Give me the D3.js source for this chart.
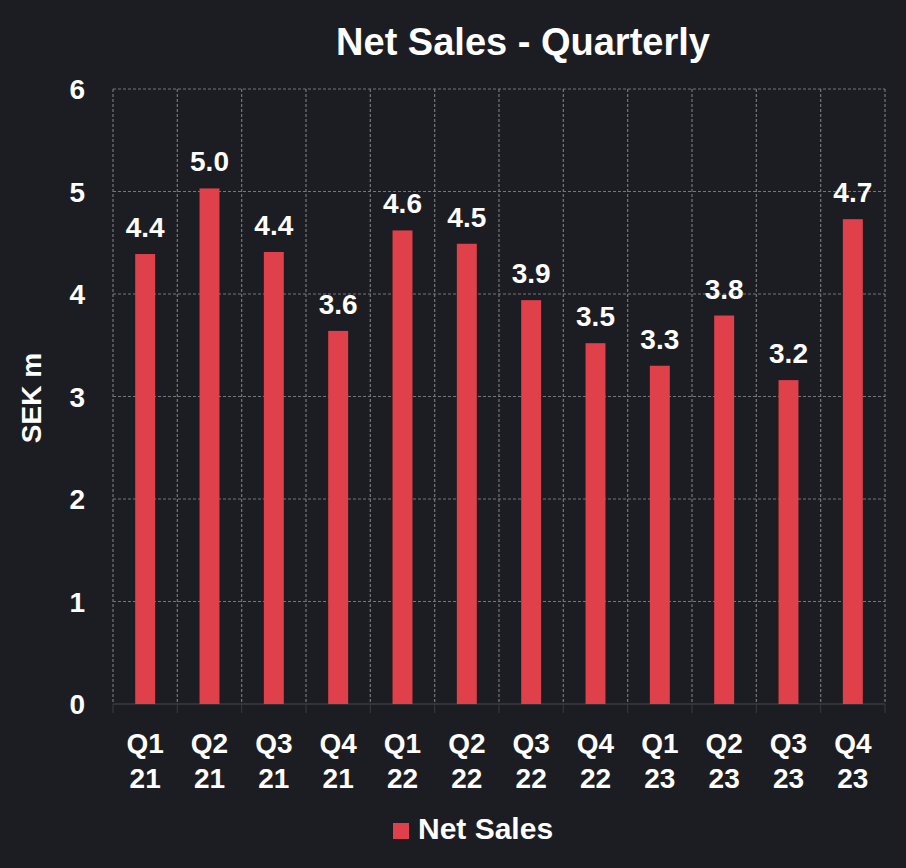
<!DOCTYPE html>
<html><head><meta charset="utf-8">
<script src="https://cdn.jsdelivr.net/npm/d3@7/dist/d3.min.js"></script>
<style>html,body{margin:0;padding:0;background:#1c1d22;}</style>
</head><body>
<svg id="c" width="906" height="868"></svg>
<script>
const quarters = ["Q1","Q2","Q3","Q4","Q1","Q2","Q3","Q4","Q1","Q2","Q3","Q4"];
const years = ["21","21","21","21","22","22","22","22","23","23","23","23"];
const netSales = [4.39, 5.03, 4.41, 3.64, 4.62, 4.49, 3.94, 3.52, 3.30, 3.79, 3.16, 4.73];
const labels = ["4.4","5.0","4.4","3.6","4.6","4.5","3.9","3.5","3.3","3.8","3.2","4.7"];
const yTicks = [0,1,2,3,4,5,6];

const svg = d3.select("#c");
const W = 906, H = 868;
const m = {left:113, right:21, top:89, bottom:164};
const font = "'Liberation Sans', Arial, sans-serif";
svg.append("rect").attr("width",W).attr("height",H).attr("fill","#1c1d22");

const idx = d3.range(netSales.length);
const x = d3.scaleBand().domain(idx).range([m.left, W-m.right]).paddingInner(0).paddingOuter(0);
const y = d3.scaleLinear().domain([0,6]).range([H-m.bottom, m.top]);

const grid = svg.append("g");
grid.selectAll("line.h").data(yTicks.filter(d=>d>0)).join("line")
  .attr("x1", m.left).attr("x2", W-m.right)
  .attr("y1", d=>y(d)).attr("y2", d=>y(d))
  .attr("stroke","#75767d").attr("stroke-width",1.2).attr("stroke-dasharray","3,2");
const bounds = idx.map(i=>x(i)).concat([W-m.right]);
grid.selectAll("line.v").data(bounds).join("line")
  .attr("x1", d=>d).attr("x2", d=>d)
  .attr("y1", m.top).attr("y2", y(0))
  .attr("stroke","#75767d").attr("stroke-width",1.2).attr("stroke-dasharray","3,2");
grid.selectAll("line.t").data(bounds).join("line")
  .attr("x1", d=>d).attr("x2", d=>d)
  .attr("y1", y(0)).attr("y2", y(0)+9)
  .attr("stroke","#3a3b42").attr("stroke-width",1);
svg.append("line").attr("x1",m.left).attr("x2",W-m.right).attr("y1",y(0)).attr("y2",y(0))
  .attr("stroke","#3a3b42").attr("stroke-width",1.5);

const bw = x.bandwidth()*0.31;
svg.append("g").selectAll("rect").data(netSales).join("rect")
  .attr("x",(d,i)=>x(i)+x.bandwidth()/2-bw/2)
  .attr("width",bw)
  .attr("y",d=>y(d))
  .attr("height",d=>y(0)-y(d))
  .attr("fill","#e0404a");

svg.append("g").selectAll("text").data(netSales).join("text")
  .attr("x",(d,i)=>x(i)+x.bandwidth()/2)
  .attr("y",d=>y(d)-17)
  .attr("text-anchor","middle")
  .attr("font-family",font).attr("font-weight","bold").attr("font-size",28)
  .attr("fill","#ffffff")
  .text((d,i)=>labels[i]);

svg.append("g").selectAll("text").data(yTicks).join("text")
  .attr("x",85).attr("y",d=>y(d)+10)
  .attr("text-anchor","end")
  .attr("font-family",font).attr("font-weight","bold").attr("font-size",28)
  .attr("fill","#ffffff").text(d=>d);

const xl = svg.append("g");
xl.selectAll("text.q").data(quarters).join("text")
  .attr("x",(d,i)=>x(i)+x.bandwidth()/2).attr("y",753)
  .attr("text-anchor","middle")
  .attr("font-family",font).attr("font-weight","bold").attr("font-size",28)
  .attr("fill","#ffffff").text(d=>d);
xl.selectAll("text.yr").data(years).join("text")
  .attr("x",(d,i)=>x(i)+x.bandwidth()/2).attr("y",788)
  .attr("text-anchor","middle")
  .attr("font-family",font).attr("font-weight","bold").attr("font-size",28)
  .attr("fill","#ffffff").text(d=>d);

svg.append("text").attr("x",523).attr("y",55).attr("text-anchor","middle")
  .attr("font-family",font).attr("font-weight","bold").attr("font-size",38)
  .attr("fill","#ffffff").text("Net Sales - Quarterly");

svg.append("text").attr("transform","translate(41,398) rotate(-90)")
  .attr("text-anchor","middle")
  .attr("font-family",font).attr("font-weight","bold").attr("font-size",28)
  .attr("fill","#ffffff").text("SEK m");

svg.append("rect").attr("x",393).attr("y",823).attr("width",16).attr("height",16).attr("fill","#e0404a");
svg.append("text").attr("x",418).attr("y",839)
  .attr("font-family",font).attr("font-weight","bold").attr("font-size",30)
  .attr("fill","#ffffff").text("Net Sales");
</script>
</body></html>
